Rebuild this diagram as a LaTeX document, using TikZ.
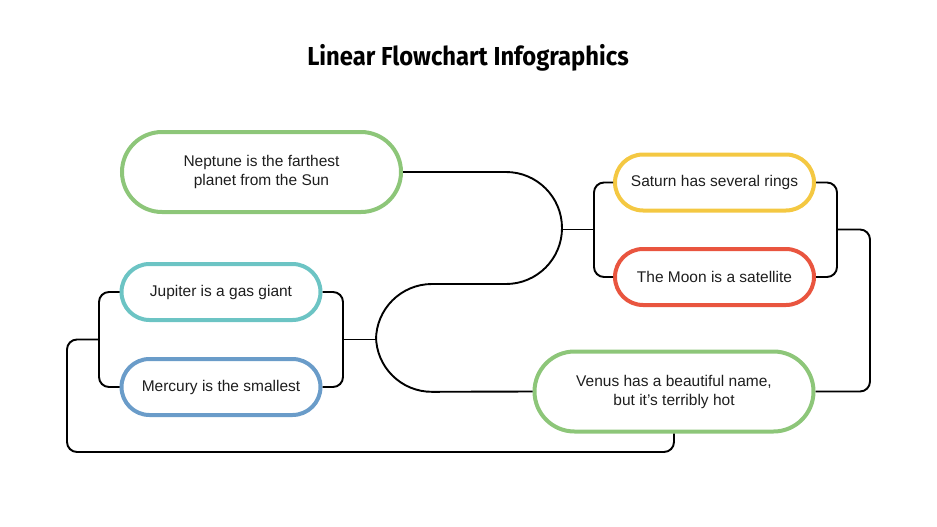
\documentclass[tikz,border=0pt]{standalone}
\usepackage{fontspec}
\setmainfont{Liberation Sans}
\newfontfamily\titlefont[FakeStretch=0.915]{Fira Sans Bold}
\usetikzlibrary{shapes.misc}
\definecolor{leafgreen}{HTML}{8DC679}
\definecolor{seacyan}{HTML}{6CC4C4}
\definecolor{skyblue}{HTML}{6A9CC9}
\definecolor{sunyellow}{HTML}{F4C842}
\definecolor{firered}{HTML}{E9553F}
\definecolor{inkgray}{HTML}{1E1E1E}

\begin{document}
\begin{tikzpicture}[x=1pt,y=-1pt,
		planet/.style={rounded rectangle, draw=#1, line width=4pt, inner sep=0pt, align=center, text=inkgray, font=\fontsize{15.5}{19}\selectfont},
		bigplanet/.style={planet=#1, minimum width=279pt, minimum height=80pt},
		smallplanet/.style={planet=#1, minimum width=199pt, minimum height=56pt},
		link/.style={line width=1.9pt, black, rounded corners=10pt}]
			\useasboundingbox (0,0) rectangle (937,527);
			\node at (468,58) {\titlefont\fontsize{26}{30}\selectfont Linear Flowchart Infographics};

			\node[bigplanet=leafgreen] (nep) at (261.5,172) {Neptune is the farthest\\planet from the Sun};
			\node[smallplanet=seacyan] (jup) at (221,292) {Jupiter is a gas giant};
			\node[smallplanet=skyblue] (mer) at (221,387) {Mercury is the smallest};
			\node[smallplanet=sunyellow] (sat) at (714.5,182.5) {Saturn has several rings};
			\node[smallplanet=firered] (moon) at (714.5,277) {The Moon is a satellite};
			\node[bigplanet=leafgreen] (ven) at (674,391.5) {Venus has a beautiful name,\\but it’s terribly hot};

			\coordinate (leftmid) at (99,339.5);
			\coordinate (rightmid) at (343,339.5);
			\coordinate (satmid) at (594,229.5);
			\coordinate (moonmid) at (837,229.5);

			\draw[link, rounded corners=56pt] (nep.east) -- (562,172) -- (562,284) -- (376,284) -- (376,392) -- (ven.west);
			\draw[link] (562,229.5) -- (satmid);
			\draw[link] (rightmid) -- (376,339.5);

			\draw[link] (jup.west) -| (leftmid) |- (mer.west);
			\draw[link] (jup.east) -| (rightmid) |- (mer.east);
			\draw[link] (sat.west) -| (satmid) |- (moon.west);
			\draw[link] (sat.east) -| (moonmid) |- (moon.east);

			\draw[link] (leftmid) -- (67,339.5) -- (67,452) -| (ven.south);
			\draw[link] (moonmid) -- (870,229.5) |- (ven.east);
		\end{tikzpicture}
\end{document}
